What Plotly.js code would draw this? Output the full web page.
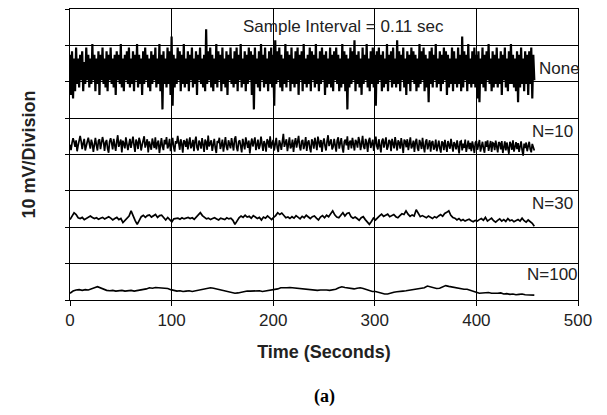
<!DOCTYPE html>
<html>
<head>
<meta charset="utf-8">
<script src="https://cdn.plot.ly/plotly-3.0.1.min.js"></script>
<style>html,body{margin:0;padding:0;background:#fff;}#chart{width:607px;height:415px;}</style>
</head>
<body>
<div id="chart"></div>
<script>
// Recording length (s); samples of each trace span 0..durationSeconds
const durationSeconds = 457;

// Trace names and their vertical offsets on the display (mV, 10 mV per division)
const traceNames = ["None", "N=10", "N=30", "N=100"];
const traceOffsetsMv = [63.4, 42.7, 22.3, 2.75];

// Deviations from each trace's offset, in mV
const noneMv = [
 4,-7,5,-8,3,-6,6,-4,3,-5,4,-3,5,-6,2,-4,6,-3,4,-5,
 3,-4,7,-3,4,-6,3,-4,5,-7,4,-3,6,-4,3,-5,5,-6,4,-3,
 6,-4,3,-5,4,-7,5,-3,4,-4,7,-5,3,-6,4,-3,5,-4,6,-5,
 3,-4,5,-6,4,-3,7,-5,4,-4,3,-7,5,-4,6,-3,4,-5,3,-6,
 5,-4,4,-3,6,-5,3,-4,7,-6,4,-11,5,-4,3,-5,6,-4,5,-7,
 9,-10,4,-5,3,-4,6,-3,5,-6,4,-4,7,-5,3,-4,5,-6,4,-3,
 6,-5,3,-4,5,-7,4,-3,6,-4,3,-5,4,-6,11,-4,5,-3,6,-5,
 4,-6,3,-4,7,-5,5,-3,4,-6,6,-4,3,-5,5,-7,4,-3,6,-4,
 3,-5,5,-4,6,-6,4,-3,7,-5,3,-4,5,-6,4,-4,6,-3,5,-7,
 4,-11,6,-4,3,-5,5,-6,7,-3,4,-5,6,-4,3,-6,5,-4,6,-5,
 4,-10,8,-4,5,-3,6,-5,4,-6,3,-4,7,-5,5,-3,4,-6,6,-4,
 3,-5,5,-4,6,-7,4,-3,5,-6,7,-4,3,-5,4,-4,6,-6,5,-3,
 4,-5,7,-4,3,-6,5,-4,6,-3,4,-7,5,-5,3,-4,6,-5,4,-6,
 5,-3,6,-4,4,-6,3,-5,7,-4,5,-6,4,-11,3,-5,6,-4,5,-3,
 8,-6,4,-4,5,-5,3,-7,6,-4,4,-3,7,-5,3,-6,5,-4,6,-5,
 4,-10,5,-4,6,-3,4,-6,5,-5,3,-4,7,-6,4,-3,5,-5,6,-4,
 3,-5,8,-4,5,-6,4,-3,6,-5,3,-7,5,-4,4,-6,6,-3,5,-4,
 4,-6,3,-5,7,-4,5,-3,6,-6,4,-5,3,-9,5,-4,6,-5,4,-3,
 7,-5,3,-4,5,-6,4,-4,6,-3,5,-7,4,-5,3,-4,6,-6,5,-4,
 3,-5,6,-4,4,-6,9,-5,5,-3,4,-6,7,-4,3,-5,5,-4,6,-5,
 4,-8,5,-9,3,-4,6,-5,4,-6,5,-3,7,-4,3,-6,5,-5,4,-4,
 6,-5,3,-4,5,-7,4,-3,6,-5,3,-6,5,-4,7,-4,4,-5,3,-6,
 5,-9,4,-5,6,-4,3,-6,5,-4,4,-7,5,-4,6,-8,4,-3
];

const n10Mv = [
 0,-1.5,0.5,1.8,0.8,-0.6,1.2,-1.8,-0.2,1.0,2.4,0.9,-1.2,0.4,1.6,-1.6,-0.7,0.8,1.9,-0.3,
 -1.1,1.4,0.3,-2.0,0.9,1.9,-0.1,-1.6,1.1,1.5,-1.2,0.1,2.1,0.8,-1.7,0.6,1.3,-1.1,-2.2,0.9,
 1.8,0.4,-1.3,1.6,-0.2,-1.7,0.9,2.6,-0.6,0.2,1.4,-2.1,1.1,0.3,-1.0,2.0,0.7,-1.5,0.1,1.6,
 -0.9,0.8,2.2,-0.1,-2.0,1.4,0.6,-1.2,1.9,0.9,-1.6,-0.1,1.2,2.3,-0.8,0.5,1.5,-2.1,0.9,-0.2,
 -1.4,1.7,0.2,-0.9,2.0,-1.3,0.4,1.1,-2.3,0.7,1.8,-0.5,-1.5,1.3,0.1,2.1,-1.0,-0.3,1.6,-1.8,
 0.6,1.9,-0.7,-1.9,1.0,0.3,2.4,-0.4,-1.4,1.5,0.2,-2.2,1.2,0.8,-0.6,1.7,-1.3,0.5,2.0,-1.0,
 -0.2,1.3,-1.8,0.9,2.2,-0.8,-1.6,1.1,0.4,-1.1,1.8,0.0,-2.0,1.4,0.7,-1.4,2.5,-0.5,0.3,1.2,
 -1.7,0.8,1.6,-0.9,-2.3,1.0,0.5,1.9,-1.2,-0.1,1.4,-1.9,0.9,2.1,-0.6,-1.5,1.2,0.3,-1.0,1.8,
 0.1,-1.6,1.5,2.3,-0.7,-1.8,0.8,1.2,-0.4,-2.1,1.6,0.4,-1.3,2.0,0.6,-0.9,1.1,-2.4,0.2,1.7,
 -0.5,1.0,2.0,-1.5,0.3,1.4,-1.2,-0.2,2.2,0.7,-1.7,1.0,0.1,-1.9,1.5,0.9,-0.8,2.3,-1.1,0.4,
 1.3,-1.6,0.6,1.9,-0.9,-2.0,1.2,0.3,-1.4,1.7,3.0,-0.6,0.2,1.5,-1.8,0.8,2.0,-1.0,-0.4,1.4,
 -2.0,0.5,1.8,-0.8,1.1,2.4,-0.5,-1.6,0.9,1.3,-1.2,0.0,2.1,-1.7,0.6,1.2,-0.9,-2.1,1.5,0.7,
 -1.1,1.9,0.4,-1.5,2.2,0.8,-0.7,1.3,-2.0,0.5,1.7,-0.3,-1.6,1.0,2.6,-0.4,0.3,1.5,-1.3,-0.6,
 1.6,0.2,-1.9,1.2,2.0,-1.1,0.4,1.8,-0.7,-2.2,0.9,1.4,-0.2,2.3,-1.4,0.6,1.1,-1.0,1.9,0.0,
 -1.6,1.3,0.7,-0.8,2.1,1.0,-1.5,0.3,2.4,-0.6,-1.2,1.6,0.5,-2.0,1.1,1.9,-0.9,0.2,1.4,-1.7,
 0.8,2.2,-0.4,-1.3,1.5,0.1,-2.1,1.0,1.7,-0.8,0.4,2.0,-1.4,-0.5,1.3,0.9,-1.8,1.6,0.3,-1.0,
 2.1,-0.2,-1.6,1.2,0.6,-1.1,1.8,0.0,-2.3,1.4,0.9,-0.7,1.5,-1.5,0.2,2.0,-1.0,-0.3,1.1,-2.0,
 0.7,1.6,-0.9,-1.7,1.3,0.4,-1.2,1.9,-0.5,-2.1,0.8,1.5,-1.3,0.1,1.2,-1.9,0.6,1.0,-1.4,-0.6,
 1.4,-1.8,0.3,1.1,-1.0,-2.2,0.9,0.5,-1.5,1.3,-0.4,-2.0,1.0,0.2,-1.1,1.6,-0.8,-1.9,0.7,0.1,
 -1.3,1.2,-0.6,-2.4,0.8,1.0,-1.6,0.3,-0.9,1.4,-2.0,-0.2,1.1,-1.2,0.5,-1.8,0.9,-0.5,-2.3,0.6,
 1.0,-1.4,-0.3,1.3,-1.9,0.2,0.8,-1.1,-2.2,0.9,-0.6,1.2,-1.7,-0.4,1.0,-2.0,0.5,0.3,-1.5,1.1,
 -0.8,-2.1,0.7,0.4,-1.3,1.0,-2.3,-0.2,0.9,-1.6,0.6,-1.0,-2.5,0.8,0.1,-1.4,1.2,-1.9,-0.5,0.7,
 -1.2,0.4,-2.0,-0.7,0.9,-1.5,-3.0,0.3,-0.9,0.6,-1.8,-0.4,0.8,-1.3,-2.1,0.2,-0.8,-1.6
];

const n30Mv = [
 -0.2,0.8,1.7,1.2,0.3,0.1,0.4,-0.2,0.2,0.5,0.8,0.4,0.1,0.3,-0.1,0.2,0.4,0,0.3,0.6,
 0.2,-0.3,0.1,0.4,-0.2,0.1,-1.0,-0.4,0.3,0.8,2.2,0.6,-0.5,-1.5,-0.3,0.6,1.0,0.4,0.9,1.1,
 0.5,0.8,1.2,0.4,0.9,1.0,0.2,-0.3,0.4,-0.2,-0.8,0,0.1,0.2,-0.1,0.3,0,0.2,0.4,0.1,
 0.3,-0.1,0.5,1.0,1.7,0.9,0.3,0,0.2,-0.2,0.1,0.3,0,-0.3,0.2,0.1,-0.2,0.3,0,0.2,
 -0.4,-1.5,-0.6,0.3,0.8,0.4,1.0,0.5,0.7,0.2,0.9,0.6,0.1,0.4,-0.3,0.5,0.2,0.8,0.3,-0.2,
 0.4,0.9,1.7,1.2,1.6,0.8,0.3,0.5,0.1,0.6,0.2,0.9,0.4,0,0.7,0.3,1.0,0.4,0.1,0.6,
 0.8,0.2,-0.3,0.5,0.9,0.3,1.0,0.6,1.4,2.2,1.1,0.5,0.3,0.9,1.7,0.8,1.5,1.7,0.6,0.2,
 0.5,0.1,-0.4,0.3,0.6,-0.2,-0.8,-1.5,-0.7,0.2,-0.3,0.4,0.8,1.3,0.7,1.0,1.3,0.6,0.9,1.2,
 0.6,0.3,0.9,1.4,1.2,2.2,1.3,0.7,1.1,0.8,2.5,1.4,0.6,0.9,0.5,0.3,0.8,0.4,0.1,0.6,
 0.3,0.8,1.2,0.7,1.5,1.8,2.2,1.0,0.4,0.2,-0.3,0.1,-0.5,-0.2,-0.6,-0.3,-0.1,-0.5,-0.8,-0.4,
 -0.6,-0.2,0.1,-0.4,0.4,-0.6,-0.3,0.2,-0.5,-0.9,-0.4,0,-0.6,-0.2,-0.7,0.1,-0.5,-0.3,-0.8,-0.4,
 -0.2,-0.6,0.2,-0.5,-0.9,-0.3,-0.7,-1.2,-2.0
];

const n100Mv = [
 -0.9,-0.3,0,0.1,-0.1,0.1,0,0.2,0.6,0.9,0.5,0.2,-0.1,-0.2,-0.1,-0.3,-0.2,-0.1,-0.3,-0.2,
 -0.1,-0.3,-0.2,-0.1,0.1,0.3,0.6,0.5,0.7,0.6,0.5,0.6,0.4,0.1,-0.2,-0.3,-0.2,-0.4,-0.3,-0.2,
 -0.4,-0.2,-0.1,0.1,0.2,0.5,0.6,0.5,0.3,0,-0.3,-0.5,-0.7,-0.9,-0.9,-0.8,-0.6,-0.4,-0.3,-0.3,
 -0.2,-0.3,-0.2,-0.4,-0.3,-0.2,-0.1,0.1,0.3,0.6,0.5,0.6,0.7,0.6,0.4,0.5,0.3,0.1,0,-0.1,
 0,-0.1,0,0.1,0,-0.1,0,0.2,0.6,0.9,0.7,0.5,0.4,0.3,0.5,0.6,0.4,0.1,-0.2,-0.4,
 -0.4,-0.7,-0.9,-1.1,-1.1,-0.8,-0.6,-0.5,-0.3,-0.3,-0.2,-0.1,0,0.1,0.2,0.3,0.6,1.1,0.9,0.6,
 0.4,0.5,0.8,1.2,1.0,0.8,0.7,0.5,0.3,0.2,0.2,0,-0.3,-0.6,-0.9,-0.8,-0.9,-0.7,-0.9,-1.0,
 -0.9,-0.8,-1.1,-1.0,-1.2,-1.1,-1.3,-1.2,-1.1,-1.3,-1.4,-1.3,-1.4
];

// Text
const xTickVals = [0, 100, 200, 300, 400, 500];
const xTitle = "Time (Seconds)";
const yTitle = "10 mV/Division";
const noteText = "Sample Interval = 0.11 sec";
const captionText = "(a)";

const series = [noneMv, n10Mv, n30Mv, n100Mv];
const widths = [2.2, 1.7, 1.7, 1.6];

function timesFor(n) {
  const dt = durationSeconds / (n - 1);
  return Array.from({length: n}, (_, i) => i * dt);
}

const traces = series.map((vals, k) => ({
  type: "scatter",
  mode: "lines",
  name: traceNames[k],
  x: timesFor(vals.length),
  y: vals.map(v => traceOffsetsMv[k] + v),
  line: {color: "#000", width: widths[k]},
  hoverinfo: "skip"
}));

const labelPos = [
  {x: 459.5, y: 63.6},
  {x: 452.5, y: 46.3},
  {x: 452.5, y: 26.4},
  {x: 447.5, y: 7.1}
];

const annotations = traceNames.map((t, k) => ({
  text: t, x: labelPos[k].x, y: labelPos[k].y, xref: "x", yref: "y",
  xanchor: "left", yanchor: "middle", showarrow: false,
  font: {family: "Liberation Sans, Arial, sans-serif", size: 17, color: "#222"}
}));
annotations.push({
  text: noteText, x: 269.5, y: 75.1, xref: "x", yref: "y",
  xanchor: "center", yanchor: "middle", showarrow: false,
  font: {family: "Liberation Sans, Arial, sans-serif", size: 17, color: "#222"}
});
annotations.push({
  text: "<b>" + captionText + "</b>", x: 0.5, y: -0.333, xref: "paper", yref: "paper",
  xanchor: "center", yanchor: "middle", showarrow: false,
  font: {family: "Liberation Serif, Times New Roman, serif", size: 18, color: "#000"}
});

const layout = {
  width: 607, height: 415,
  margin: {l: 70, r: 29, t: 9, b: 115, pad: 0},
  paper_bgcolor: "#fff", plot_bgcolor: "#fff",
  showlegend: false,
  font: {family: "Liberation Sans, Arial, sans-serif", color: "#000"},
  xaxis: {
    range: [0, 500], tickvals: xTickVals, ticktext: xTickVals.map(String),
    showgrid: true, gridcolor: "#000", gridwidth: 1,
    showline: true, linecolor: "#000", linewidth: 1, mirror: true,
    ticks: "outside", ticklen: 5, tickcolor: "#000",
    tickfont: {size: 17, color: "#222"}, zeroline: false,
    title: {text: "<b>" + xTitle + "</b>", font: {size: 18, color: "#222"}, standoff: 15},
    automargin: false
  },
  yaxis: {
    range: [0, 80], dtick: 10, tick0: 0, showticklabels: false,
    showgrid: true, gridcolor: "#000", gridwidth: 1,
    showline: true, linecolor: "#000", linewidth: 1, mirror: true,
    ticks: "outside", ticklen: 4, tickcolor: "#000", zeroline: false,
    title: {text: "<b>" + yTitle + "</b>", font: {size: 18, color: "#222"}, standoff: 24},
    automargin: false
  },
  annotations: annotations
};

Plotly.newPlot("chart", traces, layout, {staticPlot: true, displayModeBar: false});
</script>
</body>
</html>
